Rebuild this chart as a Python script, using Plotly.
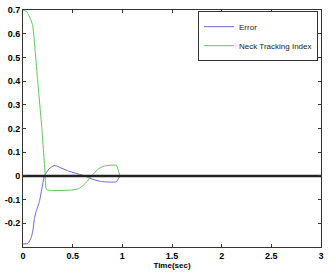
import plotly.graph_objects as go

# Error series
t_err = [0.0, 0.05, 0.083, 0.099, 0.115, 0.132, 0.165, 0.19, 0.215, 0.263, 0.312, 0.33, 0.46, 0.62, 0.70, 0.79, 0.94, 0.98, 1.2, 3.0]
y_err = [-0.287, -0.285, -0.26, -0.233, -0.18, -0.15, -0.108, -0.054, 0.0, 0.03, 0.044, 0.043, 0.02, 0.0, -0.014, -0.024, -0.025, 0.0, 0.0, 0.0]

# Neck Tracking Index series
t_nti = [0.0, 0.04, 0.079, 0.099, 0.148, 0.19, 0.224, 0.232, 0.25, 0.30, 0.49, 0.56, 0.62, 0.69, 0.76, 0.82, 0.94, 0.98, 1.2, 3.0]
y_nti = [0.70, 0.692, 0.658, 0.633, 0.40, 0.20, 0.0, -0.055, -0.06, -0.062, -0.06, -0.054, -0.035, 0.0, 0.03, 0.042, 0.045, 0.0, 0.0, 0.0]

# Zero reference line
t_zero = [0.0, 3.0]
y_zero = [0.0, 0.0]

x_ticks = [0, 0.5, 1, 1.5, 2, 2.5, 3]
x_labels = ["0", "0.5", "1", "1.5", "2", "2.5", "3"]
y_ticks = [-0.2, -0.1, 0, 0.1, 0.2, 0.3, 0.4, 0.5, 0.6, 0.7]
y_labels = ["-0.2", "-0.1", "0", "0.1", "0.2", "0.3", "0.4", "0.5", "0.6", "0.7"]

fig = go.Figure()
fig.add_trace(go.Scatter(x=t_err, y=y_err, mode="lines", name="Error",
                         line=dict(color="#6868d0", width=1, shape="spline", smoothing=0.4)))
fig.add_trace(go.Scatter(x=t_nti, y=y_nti, mode="lines", name="Neck Tracking Index",
                         line=dict(color="#5cc65c", width=1, shape="spline", smoothing=0.3)))
fig.add_trace(go.Scatter(x=t_zero, y=y_zero, mode="lines", showlegend=False,
                         line=dict(color="#222222", width=2.5)))

axis_common = dict(showgrid=False, zeroline=False, showline=True, linecolor="#333333",
                   linewidth=1, mirror="ticks", ticks="inside", ticklen=3,
                   tickcolor="#333333",
                   tickfont=dict(family="Liberation Sans", size=9, color="#000000", weight="bold"))

fig.update_layout(
    width=329, height=273,
    margin=dict(l=20, r=5, t=7, b=26),
    paper_bgcolor="white", plot_bgcolor="white",
    showlegend=True,
    legend=dict(x=0.99, y=0.995, xanchor="right", yanchor="top",
                bordercolor="#333333", borderwidth=1, bgcolor="white",
                font=dict(family="Liberation Sans", size=8, color="#222222"),
                tracegroupgap=0, itemwidth=30),
    xaxis=dict(range=[0, 3], tickvals=x_ticks, ticktext=x_labels,
               title=dict(text="Time(sec)", standoff=2,
                          font=dict(family="Liberation Sans", size=8, color="#000000", weight="bold")),
               **axis_common),
    yaxis=dict(range=[-0.3, 0.7], tickvals=y_ticks, ticktext=y_labels, **axis_common),
)

fig.write_html("out.html")
